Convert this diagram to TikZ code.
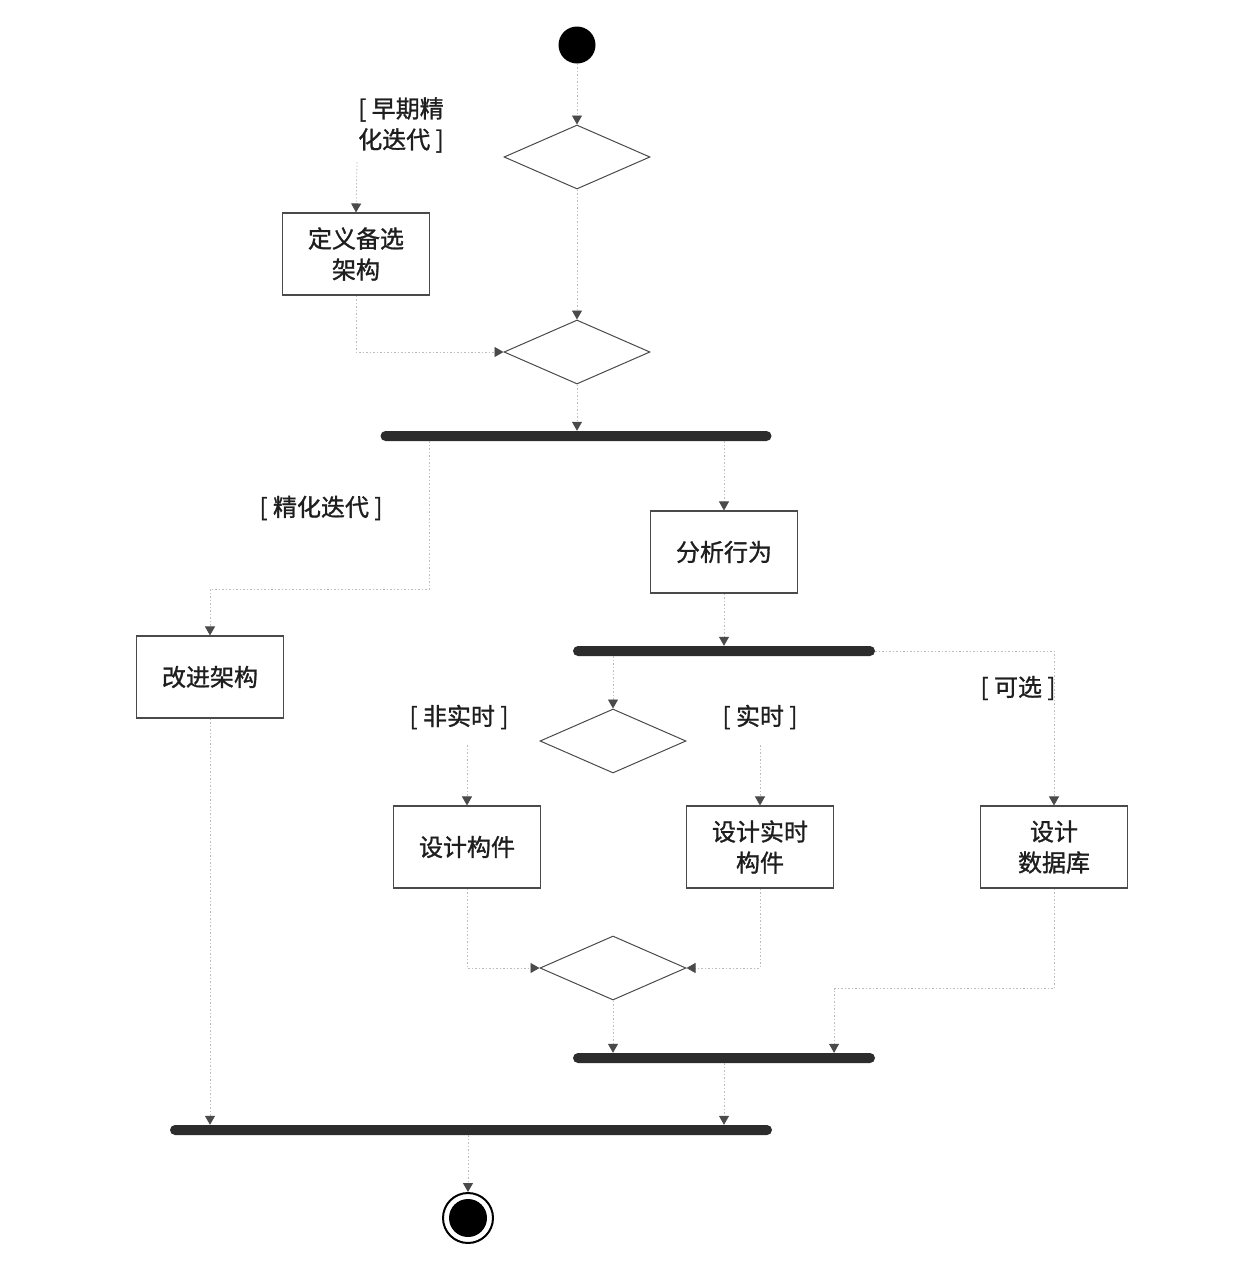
\documentclass[tikz,border=0pt]{standalone}
\usepackage{fontspec}
\setmainfont{Noto Sans CJK SC}[FakeBold=1.2]
\usepackage{xcolor}
\usetikzlibrary{positioning, arrows.meta, shapes.geometric, calc}
\definecolor{inkDark}{HTML}{1E1E1E}
\definecolor{edgeGray}{HTML}{4A4A4A}
\definecolor{flowGray}{HTML}{BDBDBD}
\definecolor{barFill}{HTML}{2C2C2C}

\begin{document}
\begin{tikzpicture}[x=1pt, y=-1pt,
  every node/.style={font=\fontsize{24}{31}\selectfont, text=inkDark},
  actBox/.style={rectangle, draw=edgeGray, line width=1.1pt, fill=white,
                 minimum width=147pt, minimum height=82pt, align=center, inner sep=0pt},
  decision/.style={diamond, draw=edgeGray, line width=1pt, fill=white,
                   minimum width=146pt, minimum height=64pt, inner sep=0pt},
  syncBar/.style={rectangle, rounded corners=5pt, fill=barFill, draw=none,
                  minimum height=10pt, inner sep=0pt},
  guardTxt/.style={align=center, inner sep=0pt},
  flow/.style={draw=flowGray, line width=0.8pt, dash pattern=on 1.5pt off 2pt,
               -{Triangle[width=10pt, length=9pt, color=edgeGray, fill=edgeGray]}},
]
  \useasboundingbox (0,0) rectangle (1234,1264);

  \node[circle, fill=black, minimum width=37pt, minimum height=35pt, inner sep=0pt] (start) at (577,45) {};

  \node[decision] (d1) at (577,157) {};
  \node[decision] (d2) at (577,352) {};
  \node[guardTxt] (gEarly) at (401,125) {[ 早期精\\化迭代 ]};
  \coordinate (gEarlyOut) at (357,162);
  \node[actBox] (alt) at (356,254) {定义备选\\架构};

  \node[syncBar, minimum width=391pt] (bar1) at (576,436) {};
  \node[guardTxt] (gRefine) at (321,508) {[ 精化迭代 ]};
  \node[actBox] (ana) at (724,552) {分析行为};
  \node[actBox] (fix) at (210,677) {改进架构};

  \node[syncBar, minimum width=302pt] (bar2) at (724,651) {};
  \node[decision] (d3) at (613,741) {};
  \node[guardTxt] (gNonRt) at (459,717) {[ 非实时 ]};
  \node[guardTxt] (gRt) at (760,717) {[ 实时 ]};
  \node[guardTxt] (gOpt) at (1018,688) {[ 可选 ]};
  \coordinate (gNonRtOut) at (467,745);
  \coordinate (gRtOut) at (760,745);

  \node[actBox] (comp) at (467,847) {设计构件};
  \node[actBox] (rtc) at (760,847) {设计实时\\构件};
  \node[actBox] (db) at (1054,847) {设计\\数据库};

  \node[decision] (d4) at (613,968) {};
  \node[syncBar, minimum width=302pt] (bar3) at (724,1058) {};
  \node[syncBar, minimum width=602pt] (bar4) at (471,1130) {};

  \node[circle, draw=black, line width=2pt, minimum size=50pt, inner sep=0pt] (finO) at (468,1218) {};
  \node[circle, fill=black, minimum size=38pt, inner sep=0pt] (finI) at (finO) {};

  \draw[flow] (start) -- (d1.north);
  \draw[flow] (d1.south) -- (d2.north);
  \draw[flow] (gEarlyOut) -- (alt.north);
  \draw[flow] (alt.south) |- (d2.west);
  \draw[flow] (d2.south) -- (d2.south |- bar1.north);
  \draw[flow] ([xshift=49pt]bar1.south west) -- ++(0,148) -| (fix.north);
  \draw[flow] (bar1.south -| ana.north) -- (ana.north);
  \draw[flow] (ana.south) -- (bar2.north);
  \draw[flow] (bar2.south -| d3.north) -- (d3.north);
  \draw[flow] (gNonRtOut) -- (comp.north);
  \draw[flow] (gRtOut) -- (rtc.north);
  \draw[flow] (bar2.east) -| (db.north);
  \draw[flow] (comp.south) |- (d4.west);
  \draw[flow] (rtc.south) |- (d4.east);
  \draw[flow] (d4.south) -- (d4.south |- bar3.north);
  \draw[flow] (db.south) -- ++(0,100) -| (bar3.north -| rtc.east);
  \draw[flow] (bar3.south) -- (bar3.south |- bar4.north);
  \draw[flow] (fix.south) -- (fix.south |- bar4.north);
  \draw[flow] (bar4.south -| finO.north) -- (finO.north);
\end{tikzpicture}
\end{document}
